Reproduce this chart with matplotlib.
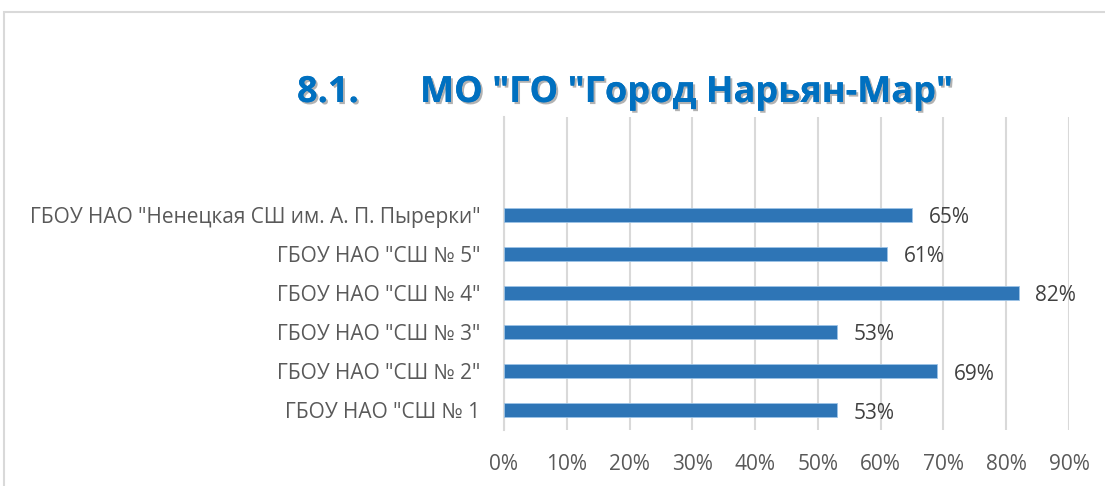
import matplotlib
matplotlib.use("Agg")
import matplotlib.pyplot as plt
import matplotlib.patheffects as pe
from matplotlib.patches import Rectangle

categories = ['ГБОУ НАО "СШ № 1', 'ГБОУ НАО "СШ № 2"', 'ГБОУ НАО "СШ № 3"',
              'ГБОУ НАО "СШ № 4"', 'ГБОУ НАО "СШ № 5"',
              'ГБОУ НАО "Ненецкая СШ им. А. П. Пырерки"']
values = [0.53, 0.69, 0.53, 0.82, 0.61, 0.65]
xticks = [0, 0.1, 0.2, 0.3, 0.4, 0.5, 0.6, 0.7, 0.8, 0.9]
title_num = "8.1."
title_text = 'МО "ГО "Город Нарьян-Мар"'

W, H = 1105, 486
fig = plt.figure(figsize=(W / 100, H / 100), dpi=100)
plt.rcParams['font.family'] = ['Open Sans', 'DejaVu Sans']

# chart frame (cropped on right and bottom)
fig.patches.append(Rectangle((4 / W, -0.1), 1.2, 1 - 12 / H + 0.1, transform=fig.transFigure,
                             fill=False, edgecolor='#D9D9D9', linewidth=1.5))

ax = fig.add_axes([504 / W, 1 - 430 / H, (1069 - 504) / W, (430 - 117) / H])
ypos = list(range(len(categories)))
ax.barh(ypos, values, height=0.36, color='#2E75B6', edgecolor='#9DC3E6', linewidth=0.6, zorder=3)
ax.set_xlim(0, 0.9)
ax.set_ylim(-0.5, 7.5)
ax.set_xticks(xticks)
ax.set_xticklabels([f"{int(round(t * 100))}%" for t in xticks])
ax.set_yticks(ypos)
ax.set_yticklabels(categories)
ax.tick_params(axis='both', length=0, colors='#595959', labelsize=15)
ax.tick_params(axis='y', pad=17)
ax.tick_params(axis='x', pad=17)
for sp in ['top', 'right', 'bottom']:
    ax.spines[sp].set_visible(False)
ax.spines['left'].set_color('#D9D9D9')
ax.spines['left'].set_linewidth(1.5)
ax.grid(axis='x', color='#D9D9D9', linewidth=1.5, zorder=0)
ax.set_axisbelow(True)

for y, v in zip(ypos, values):
    ax.annotate(f"{int(round(v * 100))}%", (v, y), xytext=(12, -2), textcoords='offset points',
                va='center', ha='left', fontsize=15, color='#404040')

shadow = [pe.withSimplePatchShadow(offset=(1.5, -1.5), shadow_rgbFace='#7F7F7F', alpha=0.6), pe.Normal()]
fig.text(297 / W, 1 - 102 / H, title_num, fontsize=26, fontweight='bold', color='#0070C0',
         ha='left', va='baseline', path_effects=shadow)
fig.text(420 / W, 1 - 102 / H, title_text, fontsize=26, fontweight='bold', color='#0070C0',
         ha='left', va='baseline', path_effects=shadow)

fig.savefig('out.png', dpi=100)
